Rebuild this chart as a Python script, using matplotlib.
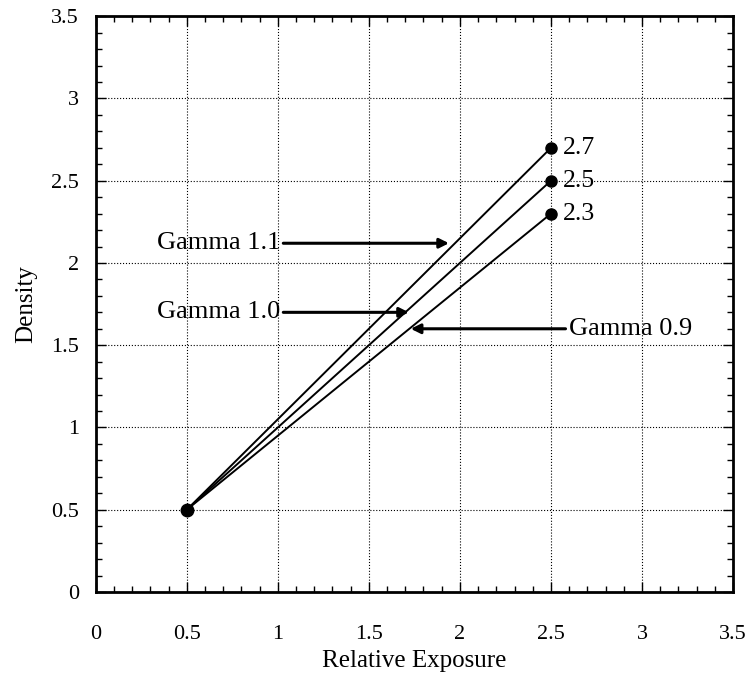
import matplotlib
matplotlib.use("Agg")
import matplotlib.pyplot as plt
from matplotlib.ticker import MultipleLocator

plt.rcParams['font.family'] = ['Liberation Serif', 'DejaVu Serif']

x_start = 0.5
y_start = 0.5
x_end = 2.5
end_densities = [2.7, 2.5, 2.3]
gamma_labels = ["Gamma 1.1", "Gamma 1.0", "Gamma 0.9"]
# annotation: text position (x, y), arrow tip (x, y)
text_pos = [(1.03, 2.12), (1.03, 1.70), (2.58, 1.60)]
tip_pos = [(1.94, 2.12), (1.72, 1.70), (1.73, 1.60)]
text_align = ["right", "right", "left"]

fig = plt.figure(figsize=(7.48, 6.77), dpi=100)
ax = fig.add_axes([0.128, 0.1256, 0.852, 0.8504])

for yd in end_densities:
    ax.plot([x_start, x_end], [y_start, yd], color='black', lw=1.4, zorder=3)
    ax.plot([x_end], [yd], 'o', color='black', ms=8, zorder=4)
    ax.text(x_end + 0.065, yd, f"{yd}", fontsize=18.5, va='center', ha='left')
ax.plot([x_start], [y_start], 'o', color='black', ms=9, zorder=4)

for lab, tp, tip, al in zip(gamma_labels, text_pos, tip_pos, text_align):
    ax.annotate("", xy=tip, xytext=tp,
                arrowprops=dict(arrowstyle='-|>', lw=2.2, color='black',
                                mutation_scale=14, shrinkA=0, shrinkB=0))
    ax.text(tp[0] - 0.015 if al == "right" else tp[0] + 0.02, tp[1], lab,
            fontsize=19, ha=al, va='center')

ax.set_xlim(0, 3.5)
ax.set_ylim(0, 3.5)
ax.xaxis.set_major_locator(MultipleLocator(0.5))
ax.yaxis.set_major_locator(MultipleLocator(0.5))
ax.xaxis.set_minor_locator(MultipleLocator(0.1))
ax.yaxis.set_minor_locator(MultipleLocator(0.1))
ax.xaxis.set_major_formatter(plt.FuncFormatter(lambda v, p: f"{v:g}"))
ax.yaxis.set_major_formatter(plt.FuncFormatter(lambda v, p: f"{v:g}"))
ax.tick_params(which='both', direction='in', top=True, right=True, labelsize=16)
ax.tick_params(which='major', length=7, width=1)
ax.tick_params(which='minor', length=4, width=1)
ax.tick_params(axis='x', pad=24)
ax.tick_params(axis='y', pad=12)
ax.grid(True, which='major', linestyle=':', color='black', lw=0.8)
for s in ax.spines.values():
    s.set_linewidth(2)

ax.set_xlabel("Relative Exposure", fontsize=18, labelpad=4)
ax.set_ylabel("Density", fontsize=18, labelpad=10)

fig.savefig("out.png", dpi=100)
